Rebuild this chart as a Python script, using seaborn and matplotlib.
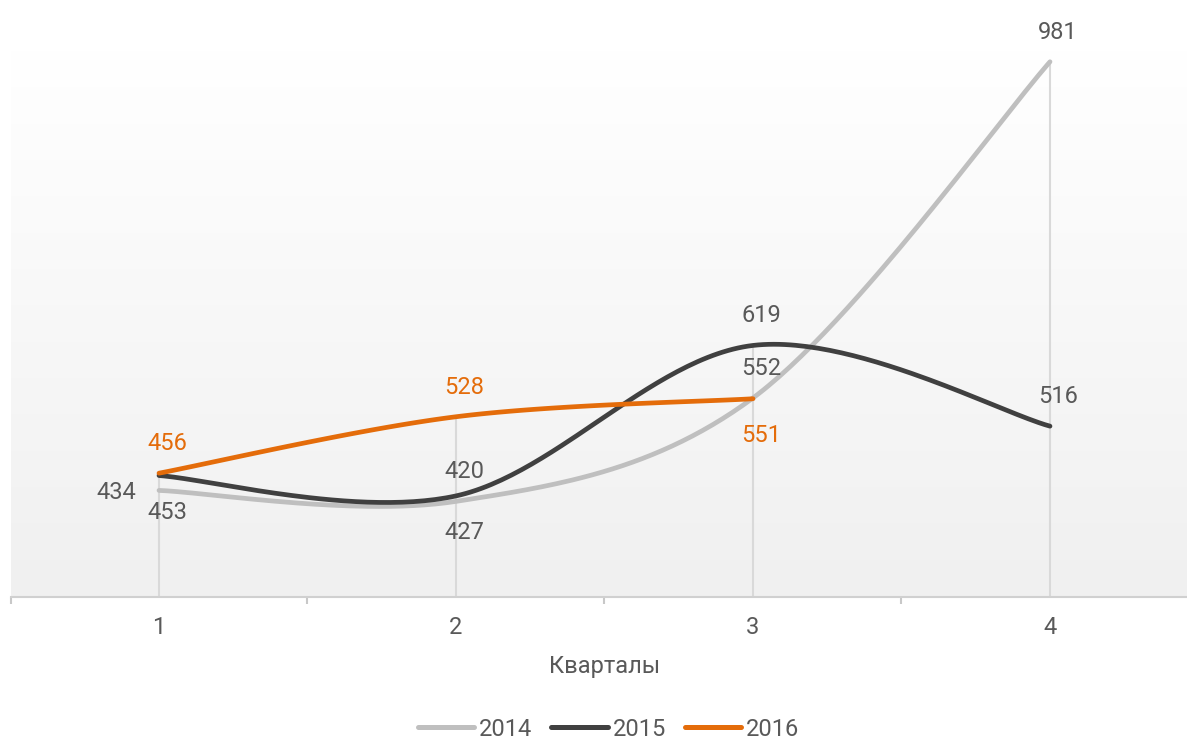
import numpy as np
import pandas as pd
import matplotlib
matplotlib.use("Agg")
import matplotlib.pyplot as plt
import seaborn as sns

quarters = [1, 2, 3, 4]
tick_labels = ["1", "2", "3", "4"]
s2014 = [434, 420, 552, 981]
s2015 = [453, 427, 619, 516]
s2016 = [456, 528, 551]
series_names = ["2014", "2015", "2016"]
x_title = "Кварталы"

colors = {"2014": "#bfbfbf", "2015": "#404040", "2016": "#e46c0a"}
label_colors = {"2014": "#595959", "2015": "#595959", "2016": "#e46c0a"}
# label placements per point
placements = {
    "2014": ["left", "above", "above", "above"],
    "2015": ["below", "below", "above", "above"],
    "2016": ["above", "above", "below"],
}

sns.set_theme(style="white")
plt.rcParams["font.family"] = ["Roboto", "DejaVu Sans"]

W, H, DPI = 1187, 740, 100
fig = plt.figure(figsize=(W / DPI, H / DPI), dpi=DPI)
left_px, right_px, top_px, bot_px = 10.5, 1198.5, 50, 597
ax = fig.add_axes([left_px / W, 1 - bot_px / H, (right_px - left_px) / W, (bot_px - top_px) / H])
ax.set_xlim(0.5, 4.5)
ax.set_ylim(298, 996)

# gradient background
grad = np.linspace(0, 1, 256).reshape(-1, 1)
cmap = matplotlib.colors.LinearSegmentedColormap.from_list("g", ["#ffffff", "#f0f0f0"])
ax.imshow(grad, extent=(0.5, 4.5, 298, 996), origin="upper", aspect="auto", cmap=cmap, zorder=0)


def smooth(xs, ys, n=60):
    xs = np.asarray(xs, float); ys = np.asarray(ys, float)
    P = np.column_stack([xs, ys])
    out = []
    for i in range(len(P) - 1):
        p0 = P[i - 1] if i > 0 else P[i]
        p1 = P[i]; p2 = P[i + 1]
        p3 = P[i + 2] if i + 2 < len(P) else P[i + 1]
        c1 = p1 + (p2 - p0) / 6
        c2 = p2 - (p3 - p1) / 6
        t = np.linspace(0, 1, n)[:, None]
        seg = (1 - t) ** 3 * p1 + 3 * (1 - t) ** 2 * t * c1 + 3 * (1 - t) * t ** 2 * c2 + t ** 3 * p2
        out.append(seg if i == 0 else seg[1:])
    return np.vstack(out)


data = {"2014": s2014, "2015": s2015, "2016": s2016}

# drop lines
for i, q in enumerate(quarters):
    vals = [data[k][i] for k in series_names if i < len(data[k])]
    ax.vlines(q, 298, max(vals), color="#d9d9d9", lw=1.5, zorder=1)

for name in series_names:
    ys = data[name]
    xs = quarters[: len(ys)]
    c = smooth(xs, ys)
    df = pd.DataFrame({"x": c[:, 0], "y": c[:, 1]})
    sns.lineplot(data=df, x="x", y="y", ax=ax, color=colors[name], lw=3.4, sort=False,
                 estimator=None, label=name, zorder=3 + series_names.index(name))
for line in ax.get_lines():
    line.set_solid_capstyle("round")

px = 0.72
for name in series_names:
    ys = data[name]
    for i, v in enumerate(ys):
        pl = placements[name][i]
        if pl == "above":
            off, ha = (8 * px, 23 * px), "center"
        elif pl == "below":
            off, ha = (8 * px, -43 * px), "center"
        else:
            off, ha = (-23 * px, -9 * px), "right"
        ax.annotate(str(v), (quarters[i], v), xytext=off, textcoords="offset points",
                    ha=ha, va="baseline", fontsize=17, color=label_colors[name], zorder=10)

# axes styling
for s in ["top", "right", "left"]:
    ax.spines[s].set_visible(False)
ax.spines["bottom"].set_color("#d0d0d0")
ax.spines["bottom"].set_linewidth(1.5)
ax.set_yticks([])
ax.set_xticks(quarters)
ax.set_xticklabels(tick_labels)
ax.set_xticks([0.5, 1.5, 2.5, 3.5, 4.5], minor=True)
ax.tick_params(axis="x", which="major", length=0, pad=14, labelsize=17, labelcolor="#595959")
ax.tick_params(axis="x", which="minor", length=5, width=1.5, color="#c8c8c8", bottom=True)
ax.set_xlabel("")
ax.set_ylabel("")

fig.text(605 / W, 1 - 673 / H, x_title, ha="center", va="baseline", fontsize=17, color="#595959")

ax.get_legend().remove()
handles = ax.get_lines()[-3:]
leg = fig.legend(handles, series_names, loc="center", bbox_to_anchor=(608.5 / W, 1 - 729 / H),
                 ncol=3, frameon=False, fontsize=17, handlelength=2.4, handletextpad=0.2,
                 columnspacing=0.8, labelcolor="#595959", borderpad=0.2)
for l in leg.get_lines():
    l.set_linewidth(3.6)
    l.set_solid_capstyle("round")

fig.savefig("out.png", dpi=DPI)
